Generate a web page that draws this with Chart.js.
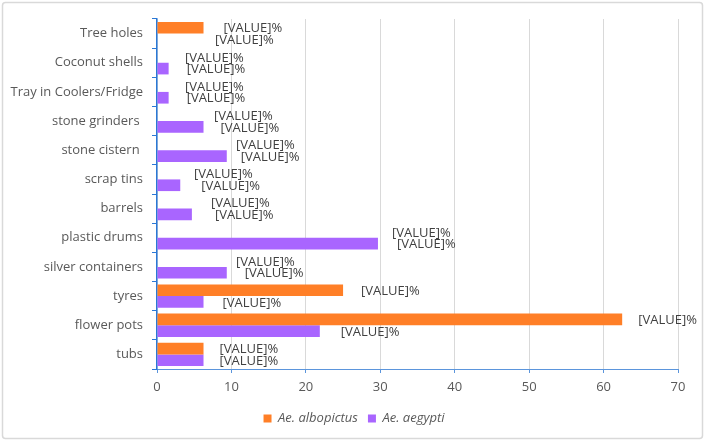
<!DOCTYPE html>
<html>
<head>
<meta charset="utf-8">
<script src="https://cdn.jsdelivr.net/npm/chart.js@4"></script>
<style>
  html, body { margin: 0; padding: 0; background: #fff; }
  #wrap { width: 705px; height: 442px; }
</style>
</head>
<body>
<div id="wrap"><canvas id="habitatChart" width="705" height="442"></canvas></div>
<script>
// breeding habitats, % of positive containers per species
const categories = ['Tree holes', 'Coconut shells', 'Tray in Coolers/Fridge', 'stone grinders ', 'stone cistern ',
  'scrap tins', 'barrels', 'plastic drums', 'silver containers', 'tyres', 'flower pots', 'tubs'];
const albopictus = [6.25, 0, 0, 0, 0, 0, 0, 0, 0, 25, 62.5, 6.25];
const aegypti = [0, 1.5625, 1.5625, 6.25, 9.375, 3.125, 4.6875, 29.6875, 9.375, 6.25, 21.875, 6.25];
const xTicks = [0, 10, 20, 30, 40, 50, 60, 70];

// where the "[VALUE]%" placeholders sit, px right of each bar end
const albopictusLabelShift = [20, 28, 28, 57, 79, 37, 54, 235, 79, 18, 16, 16];
const aegyptiLabelShift = [58, 18, 18, 17, 14, 21, 23, 19, 18, 19, 21, 16];

const FONT = "'Open Sans', sans-serif";

const frame = {
  id: 'frame',
  beforeDraw(chart) {
    const c = chart.ctx;
    c.save();
    c.fillStyle = '#ffffff';
    c.fillRect(0, 0, chart.width, chart.height);
    c.strokeStyle = '#d9d9d9';
    c.lineWidth = 1.5;
    c.beginPath();
    c.roundRect(2.5, 2.5, 700, 436, 3);
    c.stroke();
    c.restore();
  }
};

const placeholderLabels = {
  id: 'placeholderLabels',
  afterDatasetsDraw(chart) {
    const c = chart.ctx;
    const xs = chart.scales.x;
    const shifts = [albopictusLabelShift, aegyptiLabelShift];
    c.save();
    c.font = '13px ' + FONT;
    c.fillStyle = '#404040';
    c.textAlign = 'left';
    c.textBaseline = 'middle';
    chart.data.datasets.forEach((ds, i) => {
      const meta = chart.getDatasetMeta(i);
      meta.data.forEach((bar, j) => {
        const x = xs.getPixelForValue(ds.data[j]) + shifts[i][j];
        c.fillText('[VALUE]%', x, bar.y + 1);
      });
    });
    c.restore();
  }
};

new Chart(document.getElementById('habitatChart'), {
  type: 'bar',
  data: {
    labels: categories,
    datasets: [
      { label: 'Ae. albopictus', data: albopictus, backgroundColor: '#ff7f27', borderWidth: 0 },
      { label: 'Ae. aegypti', data: aegypti, backgroundColor: '#a965ff', borderWidth: 0 }
    ]
  },
  options: {
    indexAxis: 'y',
    responsive: false,
    animation: false,
    devicePixelRatio: 1,
    categoryPercentage: 0.8,
    barPercentage: 1.0,
    layout: { padding: { top: 19, left: 3, right: 0, bottom: 7 } },
    plugins: {
      tooltip: { enabled: false },
      legend: {
        position: 'bottom',
        labels: {
          boxWidth: 8,
          boxHeight: 8,
          padding: 10,
          color: '#595959',
          font: { family: FONT, size: 13, style: 'italic' }
        }
      }
    },
    scales: {
      x: {
        type: 'linear',
        min: xTicks[0],
        max: xTicks[xTicks.length - 1],
        afterBuildTicks(scale) { scale.ticks = xTicks.map(v => ({ value: v })); },
        afterFit(scale) { scale.height = 33; },
        grid: { color: '#d9d9d9', lineWidth: 1, tickColor: '#5b95dc', tickLength: 4 },
        border: { color: '#5b95dc', width: 1 },
        ticks: { color: '#595959', padding: 6, font: { family: FONT, size: 13 } }
      },
      y: {
        type: 'category',
        afterFit(scale) { scale.width = 154; },
        grid: { offset: true, drawOnChartArea: false, tickColor: '#2a78d6', tickLength: 5 },
        border: { color: '#2a78d6', width: 1.5 },
        ticks: { color: '#595959', padding: 9, font: { family: FONT, size: 13 } }
      },
      spacer: {
        type: 'linear',
        position: 'right',
        afterFit(scale) { scale.width = 27; },
        grid: { display: false, drawTicks: false },
        border: { display: false },
        ticks: { display: false }
      }
    }
  },
  plugins: [frame, placeholderLabels]
});
</script>
</body>
</html>
